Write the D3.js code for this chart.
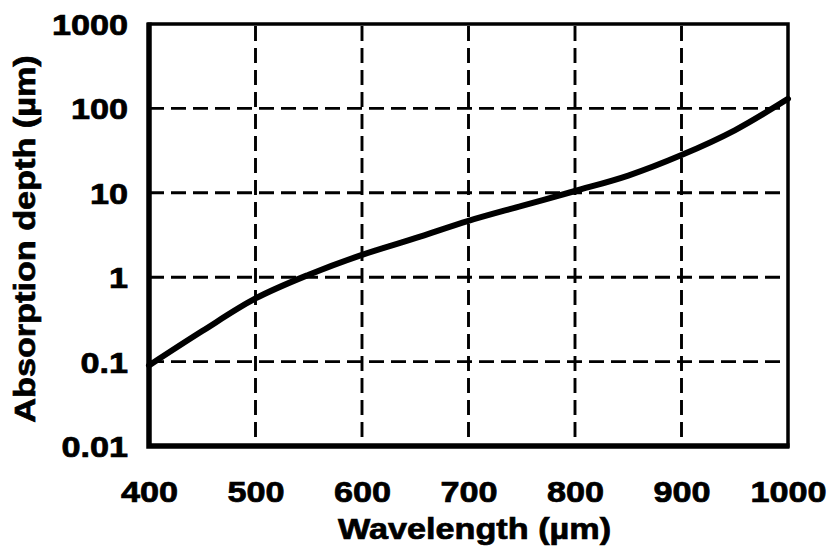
<!DOCTYPE html>
<head>
  <meta charset="utf-8">
  <script src="https://d3js.org/d3.v7.min.js"></script>
  <style>
    body { margin: 0; background: #fff; }
    text {
      font-family: "Liberation Sans", Arial, sans-serif;
      font-weight: 700;
      fill: #000;
      stroke: #000;
      stroke-width: 0.7px;
    }
    .tick text { font-size: 29px; }
    .axisTitle { font-size: 29px; }
    .grid line {
      stroke: #000;
      stroke-width: 2.9;
      stroke-dasharray: 15 7;
    }
    path.domain { display: none; }
  </style>
</head>
<body>
  <script>
    // wavelength ticks and depth ticks
    const xTicks = [400, 500, 600, 700, 800, 900, 1000];
    const yTicks = [0.01, 0.1, 1, 10, 100, 1000];
    const yTickLabels = ['0.01', '0.1', '1', '10', '100', '1000'];

    // curve
    const wavelength = [400, 450, 500, 550, 600, 650, 700, 750, 800, 850, 900, 950, 1000];
    const depth = [0.09, 0.23, 0.56, 1.07, 1.84, 2.9, 4.65, 7.0, 10.5, 16, 28, 55, 130];

    const width = 830, height = 550;
    const margin = { top: 24, right: 42, bottom: 104, left: 149 };
    const stretch = 1.18;

    const svg = d3.select('body').append('svg')
      .attr('width', width)
      .attr('height', height);

    const x = d3.scaleLinear()
      .domain([400, 1000])
      .range([margin.left, width - margin.right]);

    const y = d3.scaleLog()
      .domain([0.01, 1000])
      .range([height - margin.bottom, margin.top]);

    // dashed grid
    const grid = svg.append('g').attr('class', 'grid');
    grid.selectAll('line.v')
      .data(xTicks.slice(1, -1))
      .enter().append('line')
      .attr('class', 'v')
      .attr('x1', d => x(d)).attr('x2', d => x(d))
      .attr('y1', y(1000) + 2).attr('y2', y(0.01));
    grid.selectAll('line.h')
      .data(yTicks.slice(1, -1))
      .enter().append('line')
      .attr('class', 'h')
      .attr('x1', x(400)).attr('x2', x(1000))
      .attr('y1', d => y(d)).attr('y2', d => y(d));

    // frame
    svg.append('rect')
      .attr('x', x(400)).attr('y', y(1000))
      .attr('width', x(1000) - x(400))
      .attr('height', y(0.01) - y(1000))
      .attr('fill', 'none')
      .attr('stroke', '#000')
      .attr('stroke-width', 3.5);
    svg.append('path')
      .attr('d', `M${x(400)},${y(1000) - 1.5}V${y(0.01)}H${x(1000) + 1.5}`)
      .attr('fill', 'none')
      .attr('stroke', '#000')
      .attr('stroke-width', 5.5);

    // curve
    const pts = wavelength.map((w, i) => [w, depth[i]]);
    svg.append('path')
      .datum(pts)
      .attr('fill', 'none')
      .attr('stroke', '#000')
      .attr('stroke-width', 6)
      .attr('stroke-linecap', 'round')
      .attr('d', d3.line()
        .x(d => x(d[0]))
        .y(d => y(d[1]))
        .curve(d3.curveCatmullRom.alpha(0.5)));

    // axes (labels only)
    const xAxis = d3.axisBottom(x)
      .tickValues(xTicks)
      .tickSize(0)
      .tickPadding(0)
      .tickFormat(d => d);
    const gx = svg.append('g')
      .attr('transform', `translate(0, ${y(0.01)})`)
      .call(xAxis);
    gx.selectAll('.tick text')
      .attr('y', 0).attr('dy', 0)
      .attr('transform', `translate(0, 56) scale(${stretch}, 1)`);

    const yAxis = d3.axisLeft(y)
      .tickValues(yTicks)
      .tickSize(0)
      .tickPadding(0)
      .tickFormat((d, i) => yTickLabels[i]);
    const gy = svg.append('g')
      .attr('transform', `translate(${x(400) - 21}, 0)`)
      .call(yAxis);
    gy.selectAll('.tick text')
      .attr('x', 0).attr('dy', '0.36em')
      .attr('transform', `scale(${stretch}, 1)`);

    svg.append('text')
      .attr('class', 'axisTitle')
      .attr('text-anchor', 'middle')
      .attr('transform', `translate(${(x(400) + x(1000)) / 2 + 6}, 539) scale(${stretch}, 1)`)
      .text('Wavelength (µm)');

    svg.append('text')
      .attr('class', 'axisTitle')
      .attr('text-anchor', 'middle')
      .attr('transform', `translate(35, ${(y(0.01) + y(1000)) / 2 + 4}) rotate(-90) scale(${stretch}, 1)`)
      .text('Absorption depth (µm)');
  </script>
</body>
